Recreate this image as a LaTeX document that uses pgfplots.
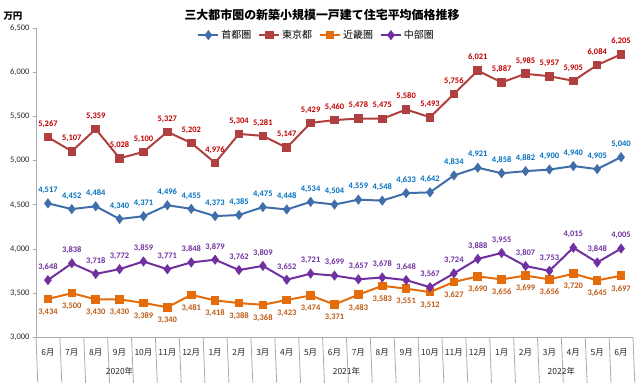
\documentclass[border=0pt]{standalone}
\usepackage{fontspec}
\setmainfont{Carlito}
\newfontfamily\cjk{Noto Sans CJK JP}
\usepackage{pgfplots}
\pgfplotsset{compat=1.18}
\definecolor{cBlue}{RGB}{64,110,170}
\definecolor{cBlueL}{RGB}{0,112,192}
\definecolor{cRed}{RGB}{176,64,64}
\definecolor{cRedL}{RGB}{192,0,0}
\definecolor{cOrange}{RGB}{228,108,10}
\definecolor{cOrangeL}{RGB}{190,90,20}
\definecolor{cPurple}{RGB}{112,48,160}
\definecolor{cPurpleL}{RGB}{112,48,160}
\definecolor{cAxis}{RGB}{170,170,170}
\begin{document}
\begin{tikzpicture}
\useasboundingbox (-36bp,-45.7bp) rectangle (604bp,337.3bp);
\begin{axis}[
  at={(0,0)}, anchor=south west,
  scale only axis, width=597bp, height=309bp,
  xmin=-0.5, xmax=24.5, ymin=3000, ymax=6500,
  clip=false,
  axis lines*=left,
  axis line style={draw=cAxis, line width=0.8pt},
  tick align=outside,
  major tick length=3bp,
  ytick={3000,3500,...,6500},
  y tick style={draw=cAxis, line width=0.8pt},
  yticklabel style={font=\fontsize{8.5}{9}\selectfont, color=black!85},
  /pgf/number format/.cd, 1000 sep={,}, assume math mode=true, /pgfplots/.cd,
  xtick={0,...,24},
  x tick style={draw=none},
  xticklabels={6月,7月,8月,9月,10月,11月,12月,1月,2月,3月,4月,5月,6月,7月,8月,9月,10月,11月,12月,1月,2月,3月,4月,5月,6月},
  xticklabel style={font=\cjk\fontsize{8.5}{9}\selectfont, color=black!85, anchor=base, yshift=-15bp},
  legend style={at={(0.470,0.978)}, anchor=center, draw=none, fill=none,
    font=\cjk\fontsize{10}{11}\selectfont,
    /tikz/every even column/.append style={column sep=5bp}},
  legend columns=4,
  legend image code/.code={\draw[mark repeat=2,mark phase=2,#1] plot coordinates {(0bp,0bp) (10bp,0bp) (20bp,0bp)};},
  every node near coord/.append style={font=\bfseries\fontsize{8.5}{9}\selectfont, anchor=center},
]
% 首都圏
\addplot[color=cBlue, line width=2pt, mark=diamond*, mark size=3.5bp, mark options={solid},
  nodes near coords, every node near coord/.append style={color=cBlueL, yshift=13bp}] coordinates {
(0,4517) (1,4452) (2,4484) (3,4340) (4,4371) (5,4496) (6,4455) (7,4373) (8,4385) (9,4475)
(10,4448) (11,4534) (12,4504) (13,4559) (14,4548) (15,4633) (16,4642) (17,4834) (18,4921)
(19,4858) (20,4882) (21,4900) (22,4940) (23,4905) (24,5040)};
\addlegendentry{首都圏}
% 東京都
\addplot[color=cRed, line width=2pt, mark=square*, mark size=3.3bp, mark options={solid},
  nodes near coords, every node near coord/.append style={color=cRedL, yshift=13bp}] coordinates {
(0,5267) (1,5107) (2,5359) (3,5028) (4,5100) (5,5327) (6,5202) (7,4976) (8,5304) (9,5281)
(10,5147) (11,5429) (12,5460) (13,5478) (14,5475) (15,5580) (16,5493) (17,5756) (18,6021)
(19,5887) (20,5985) (21,5957) (22,5905) (23,6084) (24,6205)};
\addlegendentry{東京都}
% 近畿圏
\addplot[color=cOrange, line width=2pt, mark=square*, mark size=3.3bp, mark options={solid},
  nodes near coords, every node near coord/.append style={color=cOrangeL, yshift=-13bp}] coordinates {
(0,3434) (1,3500) (2,3430) (3,3430) (4,3389) (5,3340) (6,3481) (7,3418) (8,3388) (9,3368)
(10,3423) (11,3474) (12,3371) (13,3483) (14,3583) (15,3551) (16,3512) (17,3627) (18,3690)
(19,3656) (20,3699) (21,3656) (22,3720) (23,3645) (24,3697)};
\addlegendentry{近畿圏}
% 中部圏
\addplot[color=cPurple, line width=2pt, mark=diamond*, mark size=3.5bp, mark options={solid},
  nodes near coords, every node near coord/.append style={color=cPurpleL, yshift=13bp}] coordinates {
(0,3648) (1,3838) (2,3718) (3,3772) (4,3859) (5,3771) (6,3848) (7,3879) (8,3762) (9,3809)
(10,3652) (11,3721) (12,3699) (13,3657) (14,3678) (15,3648) (16,3567) (17,3724) (18,3888)
(19,3955) (20,3807) (21,3753) (22,4015) (23,3848) (24,4005)};
\addlegendentry{中部圏}
% category separators
\pgfplotsinvokeforeach{0.5,1.5,2.5,3.5,4.5,5.5,7.5,8.5,9.5,10.5,11.5,12.5,13.5,14.5,15.5,16.5,17.5,19.5,20.5,21.5,22.5,23.5}{
  \draw[cAxis, line width=0.8pt] (axis cs:#1,3000) -- ++(0,-21bp);}
\pgfplotsinvokeforeach{-0.5,6.5,18.5,24.5}{
  \draw[cAxis, line width=0.8pt] (axis cs:#1,3000) -- ++(0,-46bp);}
\node[font=\cjk\fontsize{8.5}{9}\selectfont, color=black!85] at (axis cs:3,3000) [yshift=-34.4bp] {2020年};
\node[font=\cjk\fontsize{8.5}{9}\selectfont, color=black!85] at (axis cs:12.5,3000) [yshift=-34.4bp] {2021年};
\node[font=\cjk\fontsize{8.5}{9}\selectfont, color=black!85] at (axis cs:21.5,3000) [yshift=-34.4bp] {2022年};
\node[font=\cjk\bfseries\fontsize{9.5}{10}\selectfont] at (rel axis cs:0,1) [xshift=-23bp, yshift=12.5bp] {万円};
\node[font=\cjk\bfseries\fontsize{12}{13}\selectfont] at (rel axis cs:0,1) [xshift=286bp, yshift=13.3bp] {三大都市圏の新築小規模一戸建て住宅平均価格推移};
\end{axis}
\end{tikzpicture}
\end{document}
